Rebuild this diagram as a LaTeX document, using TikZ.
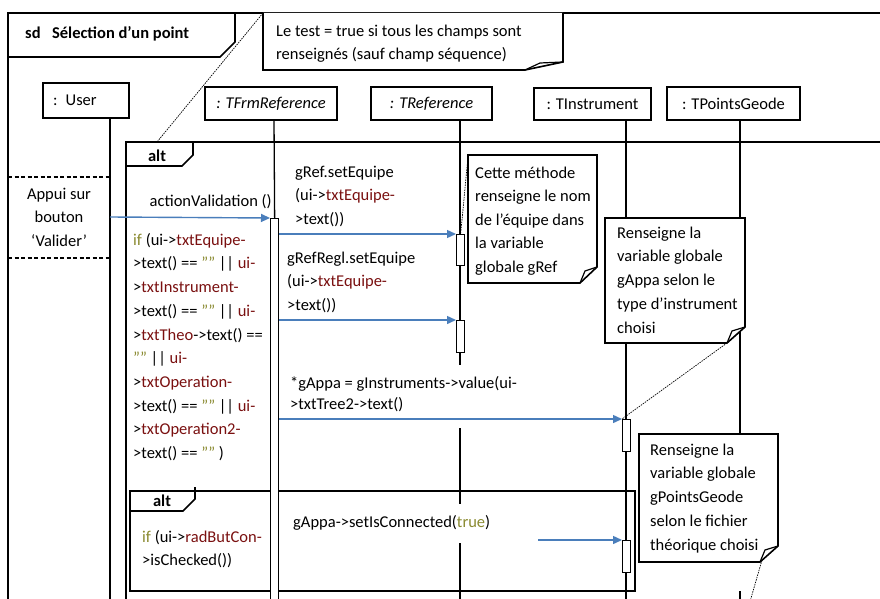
\documentclass[tikz,border=0pt]{standalone}
\usepackage{fontspec}
\setmainfont{Carlito}
\usetikzlibrary{arrows.meta}
\definecolor{msgblue}{HTML}{4A7EBB}
\definecolor{codered}{HTML}{7A1010}
\definecolor{codeolive}{HTML}{8A8A30}
\newcommand\rd[1]{\textcolor{codered}{#1}}
\newcommand\olv[1]{\textcolor{codeolive}{#1}}
\newcommand\fst{\rule{0pt}{16pt}}
\begin{document}
\begin{tikzpicture}[x=1pt,y=-1pt,
  frame/.style={line width=1.6pt},
  life/.style={line width=1.3pt},
  pbox/.style={draw, line width=1.6pt, font=\fontsize{16.5}{20}\selectfont, inner sep=0pt},
  msg/.style={draw=msgblue, line width=1.4pt, -{Triangle[length=9pt,width=8pt]}},
  txt/.style={font=\fontsize{16.5}{23.5}\selectfont, inner sep=0pt, align=left, anchor=north west},
  act/.style={draw, fill=white, line width=1.3pt, inner sep=0pt, minimum width=8pt, anchor=north west},
  link/.style={line width=0.7pt, dash pattern=on 1.5pt off 1pt},
  notebox/.style={draw, fill=white, line width=1.6pt, line join=miter},
  fold/.style={draw, line width=1.2pt, line join=miter}]
\clip (0,0) rectangle (880,599);
\fill[white] (0,0) rectangle (880,599);

% outer frame
\draw[frame] (890,13) -- (8,13) -- (8,610);
\draw[frame] (8,57) -- (220,57) -- (235,42) -- (235,13);
\node[txt] (title) at (25,22) {\fst\textbf{sd}\hspace{11.5pt}\textbf{Sélection d’un point}};

% main alt frame
\draw[frame] (890,142) -- (126,142) -- (126,610);
\draw[frame] (126,166) -- (182,166) -- (193,155) -- (193,142);
\node[txt, anchor=base] (alt1) at (157,161) {\textbf{alt}};

% inner alt frame
\draw[frame] (130,491) rectangle (635,591);
\draw[frame] (130,511) -- (183,511) -- (195,499) -- (195,487);
\node[txt, anchor=base] (alt2) at (162,506) {\textbf{alt}};

% participants
\node[pbox, minimum width=86pt, minimum height=35pt, text width=66pt, inner xsep=10pt, align=left] (user) at (86,100.5) {: User};
\node[pbox, minimum width=132pt, minimum height=33pt] (tfrm) at (271,103.5) {\textit{: TFrmReference}};
\node[pbox, minimum width=121pt, minimum height=33pt] (tref) at (431.5,103.5) {\textit{: TReference}};
\node[pbox, minimum width=117pt, minimum height=32pt] (tins) at (592.5,104) {: TInstrument};
\node[pbox, minimum width=133pt, minimum height=33pt] (tpg) at (733.5,103.5) {: TPointsGeode};

% lifelines
\coordinate (lu0) at (110,118);   \coordinate (lu1) at (110,610);
\coordinate (lf0) at (274,120);
\coordinate (lr0) at (460,120);   \coordinate (lr1) at (460,365);
\coordinate (lr2) at (460,428);   \coordinate (lr3) at (460,504);
\coordinate (lr4) at (460,543);   \coordinate (lr5) at (460,610);
\coordinate (li0) at (626,120);   \coordinate (li1) at (626,610);
\coordinate (lp0) at (740,120);   \coordinate (lp1) at (740,434);
\coordinate (lp2) at (740,591);   \coordinate (lp3) at (740,610);
\draw[life] (lu0) -- (lu1);
\draw[life] (lr0) -- (lr1);
\draw[life] (lr2) -- (lr3);
\draw[life] (lr4) -- (lr5);
\draw[life] (li0) -- (li1);
\draw[life] (lp0) -- (lp1);
\draw[life] (lp2) -- (lp3);

% user action box
\draw[line width=1.5pt, dash pattern=on 4pt off 2.5pt] (8,177) -- (110,177);
\draw[line width=1.5pt, dash pattern=on 4pt off 2.5pt] (8,258) -- (110,258);
\node[txt, anchor=north, align=center] (appui) at (59,183) {\fst Appui sur\\bouton\\‘Valider’};

% notes
\draw[notebox] (263,13) -- (263,70) -- (525,70) -- (563,62) -- (563,13);
\draw[fold] (525,70) -- (540,63) -- (563,62);
\node[txt] (n0) at (276,20) {\fst Le test = true si tous les champs sont\\renseignés (sauf champ séquence)};

\draw[notebox] (468,155) -- (597,155) -- (597,267) -- (580,283) -- (468,283) -- cycle;
\draw[fold] (580,283) -- (585,271) -- (597,267);
\node[txt] (n1) at (475,162) {\fst Cette méthode\\renseigne le nom\\de l’équipe dans\\la variable\\globale gRef};

\draw[notebox] (605,218) -- (745,218) -- (745,327) -- (727,343) -- (605,343) -- cycle;
\draw[fold] (727,343) -- (732,331) -- (745,327);
\node[txt, font=\fontsize{16.5}{23.75}\selectfont] (n2) at (617,222) {\fst Renseigne la\\variable globale\\gAppa selon le\\type d’instrument\\choisi};

\draw[notebox] (639,434) -- (778,434) -- (778,546) -- (760,562) -- (639,562) -- cycle;
\draw[fold] (760,562) -- (765,550) -- (778,546);
\node[txt, font=\fontsize{16.5}{23.75}\selectfont] (n3) at (650,439) {\fst Renseigne la\\variable globale\\gPointsGeode\\selon le fichier\\théorique choisi};

% activations
\node[act, minimum height=400pt] (a0) at (270,218) {};
\node[act, minimum height=31pt] (r1) at (456,234) {};
\node[act, minimum height=32pt] (r2) at (456,320) {};
\node[act, minimum height=32pt] (i1) at (622,419) {};
\node[act, minimum height=32pt] (i2) at (622,540) {};
\draw[life] (lf0) -- (a0.north);

% note links
\coordinate (n0c) at (263,13);
\coordinate (alttop) at (157,142);
\coordinate (n1c) at (468,157);
\coordinate (n2c) at (727,343);
\coordinate (n3c) at (762,560);
\coordinate (n3e) at (747,612);
\draw[link] (n0c) -- (alttop);
\draw[link] (n1c) -- (r1.north);
\draw[link] (n2c) -- (i1.north west);
\draw[link] (n3c) -- (n3e);

% left condition texts
\node[txt, font=\fontsize{16.5}{23.7}\selectfont] (cond1) at (133,229) {\fst\olv{if} (ui->\rd{txtEquipe-}\\
>text() == \olv{""} || \rd{ui-}\\
>\rd{txtInstrument-}\\
>text() == \olv{""} || \rd{ui-}\\
>\rd{txtTheo}->text() ==\\
\olv{""} || \rd{ui-}\\
>\rd{txtOperation-}\\
>text() == \olv{""} || \rd{ui-}\\
>\rd{txtOperation2-}\\
>text() == \olv{""} )};
\node[txt, font=\fontsize{16.5}{23}\selectfont] (cond2) at (142,526) {\fst\olv{if} (ui->\rd{radButCon-}\\>isChecked())};

% messages
\coordinate (u0) at (110,217);
\draw[msg] (u0) -- (a0.north west);
\node[txt, anchor=base east] (m0) at (272,206) {actionValidation ()};

\draw[msg] (a0.east |- r1.north west) -- (r1.north west);
\node[txt] (m1) at (295,161) {\fst gRef.setEquipe\\(ui->\rd{txtEquipe-}\\>text())};

\draw[msg] (a0.east |- r2.north west) -- (r2.north west);
\node[txt] (m2) at (287,247) {\fst gRefRegl.setEquipe\\(ui->\rd{txtEquipe-}\\>text())};

\draw[msg] (a0.east |- i1.north west) -- (i1.north west);
\node[txt, font=\fontsize{16.5}{21.5}\selectfont] (m3) at (290,372) {\fst *gAppa = gInstruments->value(ui-\\>txtTree2->text()};

\coordinate (s4) at (538,540);
\draw[msg] (s4) -- (i2.north west);
\node[txt] (m4) at (293,511) {\fst gAppa->setIsConnected(\olv{true})};
\end{tikzpicture}
\end{document}
